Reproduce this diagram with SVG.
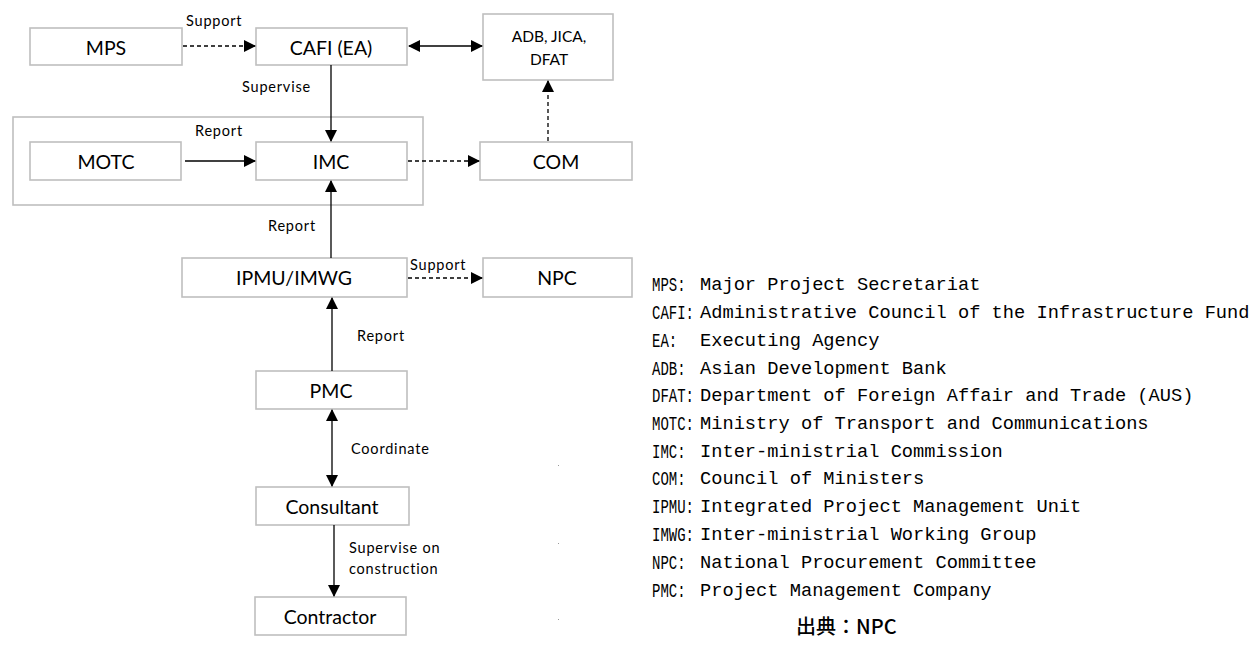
<svg xmlns="http://www.w3.org/2000/svg" width="1251" height="666" viewBox="0 0 1251 666">
<style>
.box{fill:#fff;stroke:#bfbfbf;stroke-width:1.6}
.lbl{font-family:Lato,"Open Sans",sans-serif;font-size:19.5px;fill:#000;text-anchor:middle;dominant-baseline:central}
.lbl2{font-family:Lato,"Open Sans",sans-serif;font-size:15.5px;fill:#000;text-anchor:middle;dominant-baseline:central}
.sm{font-family:Lato,"Open Sans",sans-serif;font-size:14.5px;fill:#000;letter-spacing:0.8px}
.ln{stroke:#000;stroke-width:1.3;fill:none}
.dash{stroke-dasharray:4 3}
.ab{font-family:"Liberation Mono",monospace;font-size:14px;fill:#000}
.ds{font-family:"Liberation Mono",monospace;font-size:18.7px;fill:#000}
</style>
<defs>
<marker id="ah" markerWidth="12" markerHeight="12" refX="11" refY="6" orient="auto" markerUnits="userSpaceOnUse">
<path d="M0,0 L12,6 L0,12 z" fill="#000"/>
</marker>
<marker id="as" markerWidth="12" markerHeight="12" refX="1" refY="6" orient="auto" markerUnits="userSpaceOnUse">
<path d="M12,0 L0,6 L12,12 z" fill="#000"/>
</marker>
</defs>
<rect width="1251" height="666" fill="#fff"/>
<g id="imc-group"><rect class="box" x="13" y="117" width="410" height="88"/></g>
<g id="mps"><rect class="box" x="30" y="28" width="152" height="37"/><text class="lbl" x="106" y="47">MPS</text></g>
<g id="cafi"><rect class="box" x="256" y="28" width="151" height="37"/><text class="lbl" x="331" y="47">CAFI (EA)</text></g>
<g id="adb"><rect class="box" x="483" y="14" width="130" height="66"/><text class="lbl2" x="549" y="36">ADB, JICA,</text><text class="lbl2" x="549" y="59">DFAT</text></g>
<g id="motc"><rect class="box" x="30" y="142" width="151" height="38"/><text class="lbl" x="106" y="161">MOTC</text></g>
<g id="imc"><rect class="box" x="256" y="142" width="151" height="38"/><text class="lbl" x="331" y="161">IMC</text></g>
<g id="com"><rect class="box" x="480" y="142" width="152" height="38"/><text class="lbl" x="556" y="161">COM</text></g>
<g id="ipmu"><rect class="box" x="182" y="258" width="225" height="39"/><text class="lbl" x="294" y="277">IPMU/IMWG</text></g>
<g id="npc"><rect class="box" x="483" y="258" width="149" height="39"/><text class="lbl" x="557" y="277">NPC</text></g>
<g id="pmc"><rect class="box" x="256" y="371" width="151" height="38"/><text class="lbl" x="331" y="390">PMC</text></g>
<g id="consultant"><rect class="box" x="256" y="487" width="153" height="38"/><text class="lbl" x="332" y="506">Consultant</text></g>
<g id="contractor"><rect class="box" x="255" y="597" width="151" height="38"/><text class="lbl" x="330" y="616">Contractor</text></g>
<g id="connectors">
<line class="ln dash" x1="183" y1="46" x2="255" y2="46" marker-end="url(#ah)"/>
<line class="ln" x1="409" y1="46" x2="482" y2="46" marker-start="url(#as)" marker-end="url(#ah)"/>
<line class="ln" x1="331" y1="65" x2="331" y2="141" marker-end="url(#ah)"/>
<line class="ln" x1="185" y1="161" x2="255" y2="161" marker-end="url(#ah)"/>
<line class="ln dash" x1="408" y1="161" x2="479" y2="161" marker-end="url(#ah)"/>
<line class="ln dash" x1="548" y1="141" x2="548" y2="81" marker-end="url(#ah)"/>
<line class="ln" x1="331" y1="258" x2="331" y2="181" marker-end="url(#ah)" stroke="#333"/>
<line class="ln dash" x1="408" y1="278" x2="482" y2="278" marker-end="url(#ah)"/>
<line class="ln" x1="332" y1="371" x2="332" y2="298" marker-end="url(#ah)"/>
<line class="ln" x1="332" y1="410" x2="332" y2="486" marker-start="url(#as)" marker-end="url(#ah)" stroke="#333"/>
<line class="ln" x1="334" y1="525" x2="334" y2="596" marker-end="url(#ah)"/>
<text class="sm" x="186" y="26">Support</text>
<text class="sm" x="242" y="92">Supervise</text>
<text class="sm" x="195" y="136">Report</text>
<text class="sm" x="268" y="231">Report</text>
<text class="sm" x="410" y="270">Support</text>
<text class="sm" x="357" y="341">Report</text>
<text class="sm" x="351" y="454">Coordinate</text>
<text class="sm" x="349" y="553">Supervise on</text>
<text class="sm" x="349" y="574">construction</text>
</g>
<g id="specks" fill="#999">
<rect x="558" y="465" width="1" height="1"/>
<rect x="558" y="543" width="1" height="1"/>
<rect x="558" y="619" width="1" height="1"/>
</g>
<g id="legend">
<text class="ab" transform="translate(652,291) scale(1,1.45)">MPS:</text><text class="ds" x="700" y="290">Major Project Secretariat</text>
<text class="ab" transform="translate(652,319) scale(1,1.45)">CAFI:</text><text class="ds" x="700" y="318">Administrative Council of the Infrastructure Fund</text>
<text class="ab" transform="translate(652,347) scale(1,1.45)">EA:</text><text class="ds" x="700" y="346">Executing Agency</text>
<text class="ab" transform="translate(652,375) scale(1,1.45)">ADB:</text><text class="ds" x="700" y="374">Asian Development Bank</text>
<text class="ab" transform="translate(652,402) scale(1,1.45)">DFAT:</text><text class="ds" x="700" y="401">Department of Foreign Affair and Trade (AUS)</text>
<text class="ab" transform="translate(652,430) scale(1,1.45)">MOTC:</text><text class="ds" x="700" y="429">Ministry of Transport and Communications</text>
<text class="ab" transform="translate(652,458) scale(1,1.45)">IMC:</text><text class="ds" x="700" y="457">Inter-ministrial Commission</text>
<text class="ab" transform="translate(652,485) scale(1,1.45)">COM:</text><text class="ds" x="700" y="484">Council of Ministers</text>
<text class="ab" transform="translate(652,513) scale(1,1.45)">IPMU:</text><text class="ds" x="700" y="512">Integrated Project Management Unit</text>
<text class="ab" transform="translate(652,541) scale(1,1.45)">IMWG:</text><text class="ds" x="700" y="540">Inter-ministrial Working Group</text>
<text class="ab" transform="translate(652,569) scale(1,1.45)">NPC:</text><text class="ds" x="700" y="568">National Procurement Committee</text>
<text class="ab" transform="translate(652,597) scale(1,1.45)">PMC:</text><text class="ds" x="700" y="596">Project Management Company</text>
<text x="796" y="634" font-family="'Noto Sans CJK JP',sans-serif" font-size="20px" font-weight="500" fill="#000">出典：NPC</text>
</g>
</svg>
